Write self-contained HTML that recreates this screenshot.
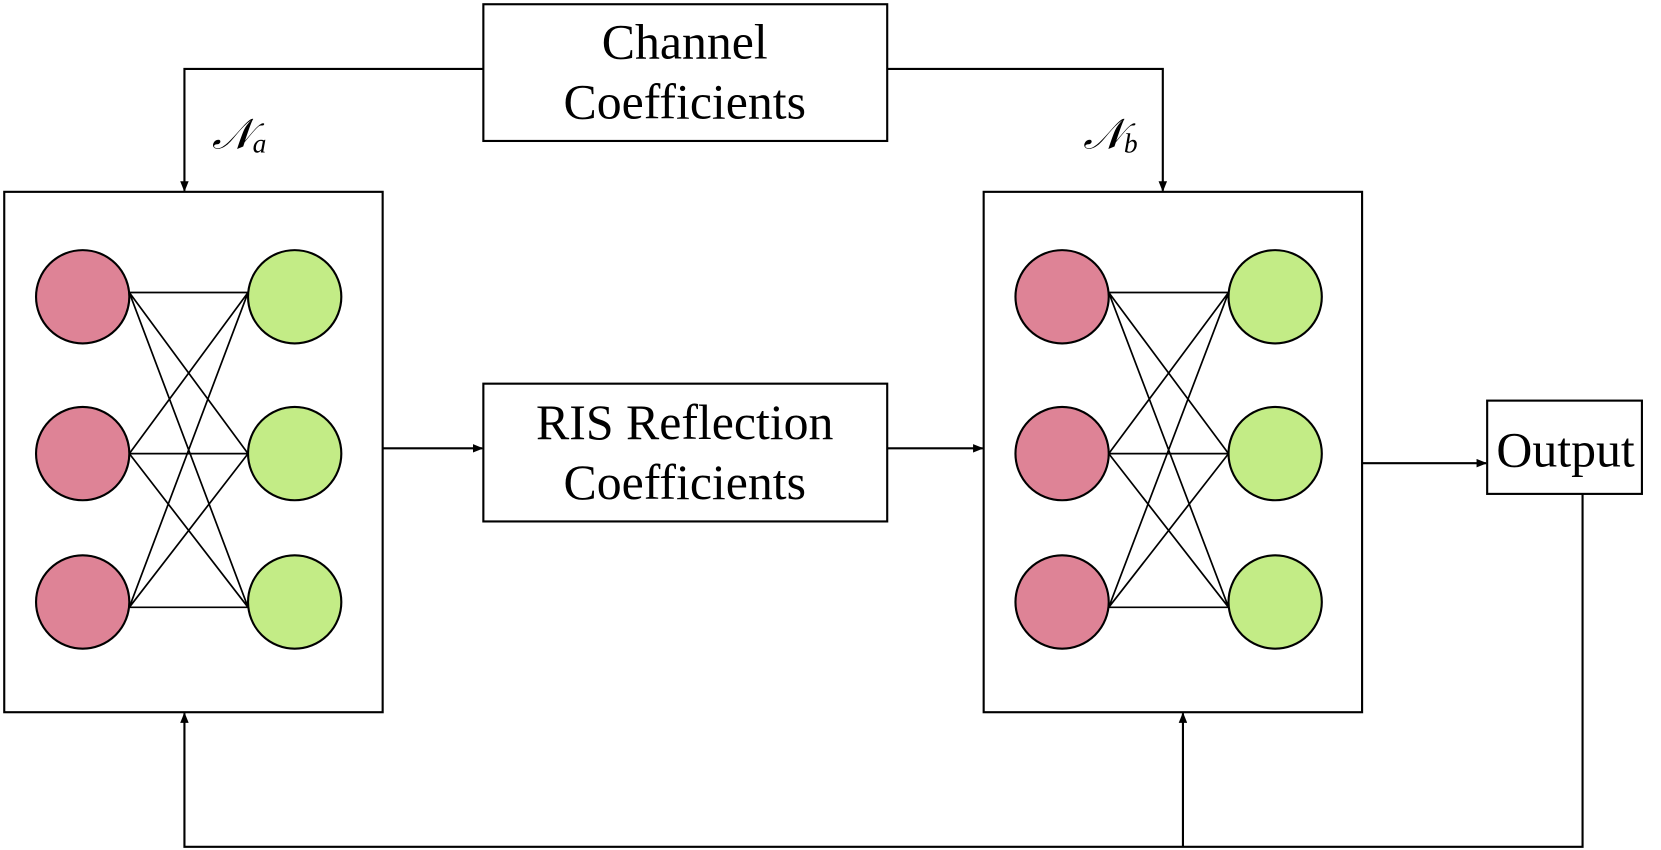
<!DOCTYPE html>
<html><head><style>html,body{margin:0;padding:0;background:#fff}svg{display:block}</style></head>
<body>
<svg width="1661" height="850" viewBox="0 0 1567 802" preserveAspectRatio="none" xmlns="http://www.w3.org/2000/svg">
<defs><marker id="ar" markerWidth="10" markerHeight="8" refX="9" refY="4" orient="auto" markerUnits="userSpaceOnUse"><path d="M0,0 L10,4 L0,8 Z" fill="#000"/></marker></defs>
<g fill="none" stroke="#000" stroke-width="2">
<rect x="456" y="4" width="381" height="129"/>
<rect x="456" y="362" width="381" height="130"/>
<rect x="4" y="181" width="357" height="491"/>
<rect x="928" y="181" width="357" height="491"/>
<rect x="1403" y="378" width="146" height="88"/>
<polyline points="456,65 174,65 174,180" marker-end="url(#ar)"/>
<polyline points="837,65 1097,65 1097,180" marker-end="url(#ar)"/>
<line x1="361" y1="423" x2="455" y2="423" marker-end="url(#ar)"/>
<line x1="837" y1="423" x2="927" y2="423" marker-end="url(#ar)"/>
<line x1="1285" y1="437" x2="1402" y2="437" marker-end="url(#ar)"/>
<polyline points="1493,466 1493,799 174,799 174,673" marker-end="url(#ar)"/>
<line x1="1116" y1="799" x2="1116" y2="673" marker-end="url(#ar)"/>
</g>
<g stroke="#000" stroke-width="1.6">
<path d="M122,276L234,276M122,276L234,428M122,276L234,573M122,428L234,276M122,428L234,428M122,428L234,573M122,573L234,276M122,573L234,428M122,573L234,573"/>
<path d="M1046,276L1159,276M1046,276L1159,428M1046,276L1159,573M1046,428L1159,276M1046,428L1159,428M1046,428L1159,573M1046,573L1159,276M1046,573L1159,428M1046,573L1159,573"/>
</g>
<g stroke="#000" stroke-width="2">
<ellipse cx="78" cy="280" rx="44" ry="44" fill="#de8396"/>
<ellipse cx="78" cy="428" rx="44" ry="44" fill="#de8396"/>
<ellipse cx="78" cy="568" rx="44" ry="44" fill="#de8396"/>
<ellipse cx="278" cy="280" rx="44" ry="44" fill="#c3ec86"/>
<ellipse cx="278" cy="428" rx="44" ry="44" fill="#c3ec86"/>
<ellipse cx="278" cy="568" rx="44" ry="44" fill="#c3ec86"/>
<ellipse cx="1002" cy="280" rx="44" ry="44" fill="#de8396"/>
<ellipse cx="1002" cy="428" rx="44" ry="44" fill="#de8396"/>
<ellipse cx="1002" cy="568" rx="44" ry="44" fill="#de8396"/>
<ellipse cx="1203" cy="280" rx="44" ry="44" fill="#c3ec86"/>
<ellipse cx="1203" cy="428" rx="44" ry="44" fill="#c3ec86"/>
<ellipse cx="1203" cy="568" rx="44" ry="44" fill="#c3ec86"/>
</g>
<g font-family="Liberation Serif, serif" font-size="47" text-anchor="middle" fill="#000">
<text x="646" y="55">Channel</text>
<text x="646" y="112">Coefficients</text>
<text x="646" y="414">RIS Reflection</text>
<text x="646" y="471">Coefficients</text>
<text x="1477" y="440">Output</text>
</g>
<g font-family="Liberation Serif, serif" font-style="italic" fill="#000">
<text x="200" y="140" font-size="40">𝒩<tspan font-size="26" dy="4">a</tspan></text>
<text x="1022" y="140" font-size="40">𝒩<tspan font-size="26" dy="4">b</tspan></text>
</g>
</svg>
</body></html>
